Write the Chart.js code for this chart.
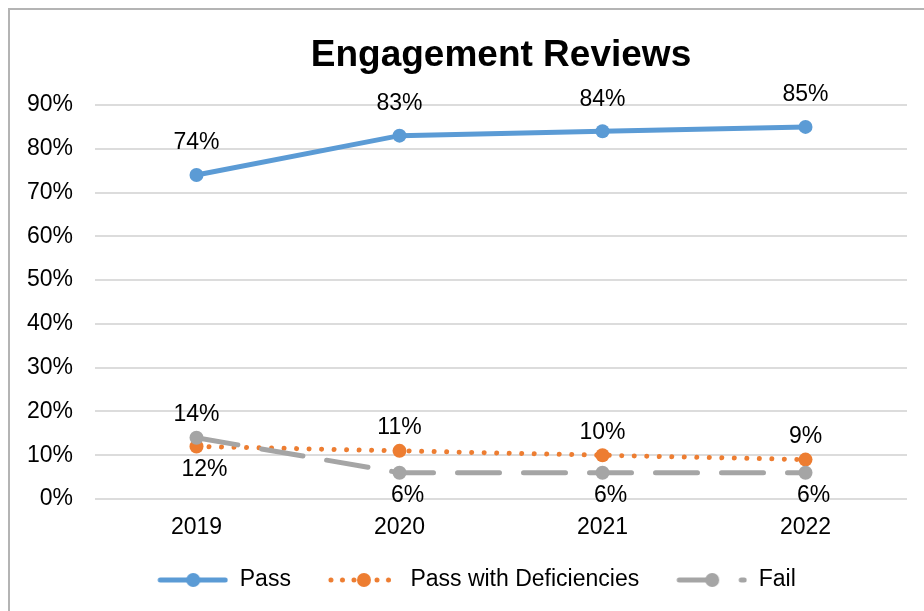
<!DOCTYPE html>
<html>
<head>
<meta charset="utf-8">
<title>Engagement Reviews</title>
<script src="https://cdn.jsdelivr.net/npm/chart.js@4.4.1/dist/chart.umd.min.js"></script>
<style>
  html, body { margin: 0; padding: 0; background: #fff; overflow: hidden; }
  .frame { position: absolute; left: 8px; top: 8px; width: 1000px; height: 1000px; border: 2px solid #b4b4b4; box-sizing: border-box; }
  .wrap { position: absolute; left: 0; top: 0; width: 924px; height: 611px; }
</style>
</head>
<body>
<div class="frame"></div>
<div class="wrap"><canvas id="lineChart" width="924" height="611"></canvas></div>
<script>
const years = ['2019', '2020', '2021', '2022'];
const passValues = [74, 83, 84, 85];
const deficiencyValues = [12, 11, 10, 9];
const failValues = [14, 6, 6, 6];
const yMin = 0;
const yMax = 90;
const yStep = 10;

const FONT = '"Liberation Sans", Arial, sans-serif';

// legend symbol: line with a marker in the middle, drawn into a small canvas
function legendSymbol(color, dash, width) {
  const c = document.createElement('canvas');
  c.width = 85;
  c.height = 18;
  const g = c.getContext('2d');
  g.strokeStyle = color;
  g.fillStyle = color;
  g.lineWidth = width;
  g.lineCap = 'round';
  g.setLineDash(dash);
  g.beginPath();
  g.moveTo(17, 9);
  g.lineTo(82, 9);
  g.stroke();
  g.setLineDash([]);
  g.beginPath();
  g.arc(50, 9, 7, 0, Math.PI * 2);
  g.fill();
  return c;
}

const valueLabels = {
  id: 'valueLabels',
  afterDatasetsDraw(chart) {
    const ctx = chart.ctx;
    ctx.save();
    ctx.font = '23px ' + FONT;
    ctx.fillStyle = '#000';
    ctx.textAlign = 'center';
    ctx.textBaseline = 'middle';
    chart.data.datasets.forEach((ds, i) => {
      const meta = chart.getDatasetMeta(i);
      meta.data.forEach((pt, j) => {
        const below = ds.labelBelow[j];
        const x = below ? pt.x + 8 : pt.x;
        const y = below ? pt.y + 23 : pt.y - ds.labelGap;
        ctx.fillText(ds.data[j] + '%', x, y);
      });
    });
    ctx.restore();
  }
};

// the legend sits a little right of the canvas centre in the original
const legendShift = {
  id: 'legendShift',
  afterLayout(chart) {
    if (chart.legend) {
      chart.legend.left += 16;
      chart.legend.right += 16;
    }
  }
};

document.addEventListener('DOMContentLoaded', () => {
  const canvas = document.getElementById('lineChart');
  new Chart(canvas, {
    type: 'line',
    data: {
      labels: years,
      datasets: [
        {
          label: 'Pass',
          data: passValues,
          borderColor: '#5b9bd5',
          backgroundColor: '#5b9bd5',
          borderWidth: 5,
          pointRadius: 7,
          pointBorderWidth: 0,
          order: 3,
          labelGap: 32,
          labelBelow: [false, false, false, false],
          symbol: legendSymbol('#5b9bd5', [], 5)
        },
        {
          label: 'Pass with Deficiencies',
          data: deficiencyValues,
          borderColor: '#ed7d31',
          backgroundColor: '#ed7d31',
          borderWidth: 5,
          borderDash: [0.01, 12.5],
          borderCapStyle: 'round',
          pointRadius: 7,
          pointBorderWidth: 0,
          order: 2,
          labelGap: 23,
          labelBelow: [true, false, false, false],
          symbol: legendSymbol('#ed7d31', [0.01, 11.5], 5)
        },
        {
          label: 'Fail',
          data: failValues,
          borderColor: '#a5a5a5',
          backgroundColor: '#a5a5a5',
          borderWidth: 5,
          borderDash: [42, 24],
          borderCapStyle: 'round',
          pointRadius: 7,
          pointBorderWidth: 0,
          order: 1,
          labelGap: 23,
          labelBelow: [false, true, true, true],
          symbol: legendSymbol('#a5a5a5', [36, 26], 5)
        }
      ]
    },
    options: {
      responsive: false,
      animation: false,
      devicePixelRatio: 1,
      layout: {
        padding: { left: 0, right: 17, top: 0, bottom: 9.5 }
      },
      elements: {
        line: { tension: 0 }
      },
      scales: {
        x: {
          offset: true,
          grid: { display: false, drawTicks: false },
          border: { display: false },
          ticks: {
            color: '#000',
            padding: 14.7,
            font: { family: FONT, size: 23 }
          },
          afterFit: (scale) => { scale.height = 46.5; }
        },
        y: {
          min: yMin,
          max: yMax,
          grid: { color: '#dcdcdc', lineWidth: 2, drawTicks: false },
          border: { display: false },
          ticks: {
            stepSize: yStep,
            color: '#000',
            padding: 22,
            font: { family: FONT, size: 23 },
            callback: (v) => v + '%'
          },
          afterFit: (scale) => { scale.width = 95; }
        }
      },
      plugins: {
        title: {
          display: true,
          text: 'Engagement Reviews',
          fullSize: false,
          color: '#000',
          font: { family: FONT, size: 37, weight: 'bold', lineHeight: 1.2 },
          padding: { top: 33.8, bottom: 26.8 }
        },
        legend: {
          position: 'bottom',
          labels: {
            usePointStyle: true,
            pointStyleWidth: 85,
            padding: 23,
            color: '#000',
            font: { family: FONT, size: 23 },
            generateLabels: (chart) => chart.data.datasets.map((ds, i) => ({
              text: ds.label,
              pointStyle: ds.symbol,
              fontColor: '#000',
              hidden: false,
              datasetIndex: i
            }))
          }
        },
        tooltip: { enabled: false }
      }
    },
    plugins: [valueLabels, legendShift]
  });
});
</script>
</body>
</html>
